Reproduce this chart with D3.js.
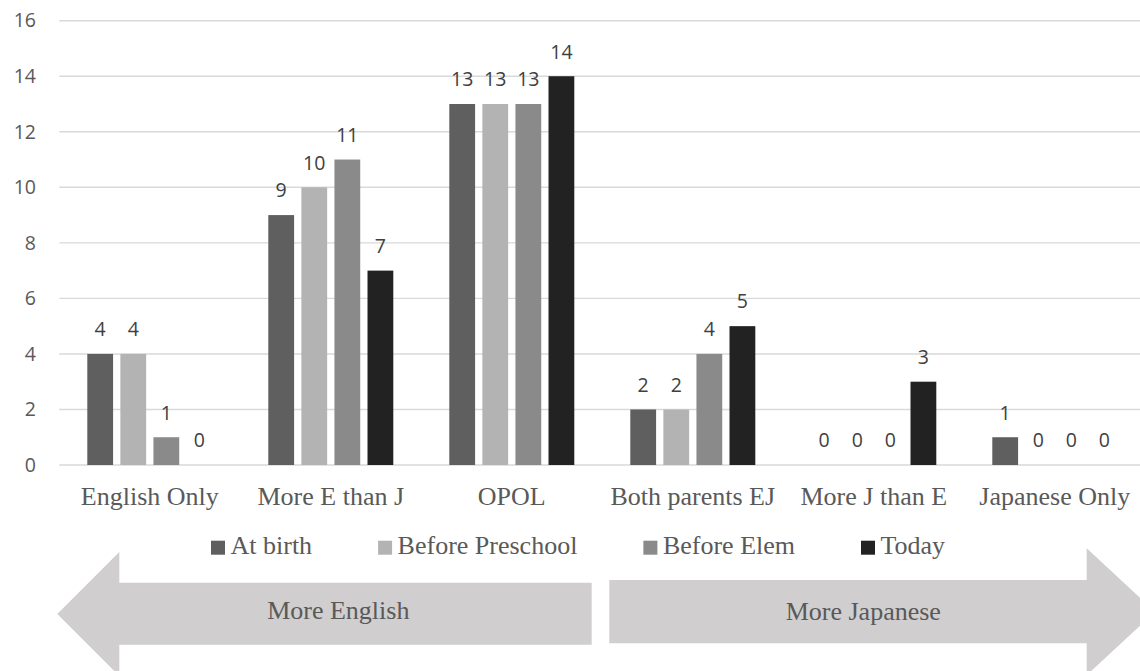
<!DOCTYPE html>
<html>
<head>
<meta charset="utf-8">
<script src="https://cdn.jsdelivr.net/npm/d3@7"></script>
<style>
  html, body { margin: 0; padding: 0; background: #fff; }
  svg { display: block; }
</style>
</head>
<body>
<svg id="chart" width="1140" height="671"></svg>
<script>
const categories = ["English Only", "More E than J", "OPOL", "Both parents EJ", "More J than E", "Japanese Only"];
const seriesNames = ["At birth", "Before Preschool", "Before Elem", "Today"];
const atBirth         = [4, 9, 13, 2, 0, 1];
const beforePreschool = [4, 10, 13, 2, 0, 0];
const beforeElem      = [1, 11, 13, 4, 0, 0];
const today           = [0, 7, 14, 5, 3, 0];
const yTicks = [0, 2, 4, 6, 8, 10, 12, 14, 16];
const arrowLabels = ["More English", "More Japanese"];

const seriesValues = [atBirth, beforePreschool, beforeElem, today];
const colors = ["#5f5f5f", "#b3b3b3", "#8a8a8a", "#222222"];

const svg = d3.select("#chart");
const sansFont = "'Open Sans', 'Noto Sans', sans-serif";
const serifFont = "'Liberation Serif', 'Times New Roman', serif";
const textColor = "#595959";

const y = d3.scaleLinear().domain([0, 16]).range([465, 20.7]);
const x0 = d3.scaleBand().domain(categories).range([59.3, 1145.3]).paddingInner(0).paddingOuter(0);
const x1 = d3.scaleBand().domain(seriesNames).range([28, 153]).paddingInner(0.22).paddingOuter(0);

// gridlines
svg.append("g").selectAll("line").data(yTicks).join("line")
  .attr("x1", 59.3).attr("x2", 1140)
  .attr("y1", d => y(d)).attr("y2", d => y(d))
  .attr("stroke", "#d9d9d9").attr("stroke-width", 1.4);

// y axis labels
const yAxis = d3.axisLeft(y).tickValues(yTicks).tickSize(0).tickPadding(0);
const yg = svg.append("g").attr("transform", "translate(36,0)").call(yAxis);
yg.select(".domain").remove();
yg.selectAll("text").attr("font-family", sansFont).attr("font-size", 19.5).attr("fill", textColor);

// bars
const data = [];
categories.forEach((c, i) => {
  seriesNames.forEach((s, j) => data.push({ cat: c, ser: s, v: seriesValues[j][i], color: colors[j] }));
});
const groups = svg.append("g");
groups.selectAll("rect").data(data).join("rect")
  .attr("x", d => x0(d.cat) + x1(d.ser))
  .attr("width", x1.bandwidth())
  .attr("y", d => y(d.v))
  .attr("height", d => y(0) - y(d.v))
  .attr("fill", d => d.color);

// value labels
groups.selectAll("text").data(data).join("text")
  .attr("x", d => x0(d.cat) + x1(d.ser) + x1.bandwidth() / 2)
  .attr("y", d => y(d.v) - 17.7)
  .attr("text-anchor", "middle")
  .attr("font-family", sansFont).attr("font-size", 19.5).attr("fill", "#404040")
  .text(d => d.v);

// x axis labels
const xAxis = d3.axisBottom(x0).tickSize(0).tickPadding(0);
const xg = svg.append("g").attr("transform", "translate(0,505)").call(xAxis);
xg.select(".domain").remove();
xg.selectAll("text").attr("font-family", serifFont).attr("font-size", 26).attr("fill", textColor)
  .attr("dy", 0).attr("y", 0);

// legend
const legend = svg.append("g");
let lx = 211;
seriesNames.forEach((s, j) => {
  legend.append("rect").attr("x", lx).attr("y", 540.7).attr("width", 14).attr("height", 14).attr("fill", colors[j]);
  const t = legend.append("text").attr("x", lx + 19.5).attr("y", 554.3)
    .attr("font-family", serifFont).attr("font-size", 26).attr("fill", textColor).text(s);
  lx += 19.5 + t.node().getComputedTextLength() + 66;
});

// arrows
const arrowColor = "#d0cecf";
function leftArrow(tipX, cy, headBase, headHalf, shaftTop, shaftBot, endX) {
  const p = d3.path();
  p.moveTo(tipX, cy);
  p.lineTo(headBase, cy - headHalf);
  p.lineTo(headBase, shaftTop);
  p.lineTo(endX, shaftTop);
  p.lineTo(endX, shaftBot);
  p.lineTo(headBase, shaftBot);
  p.lineTo(headBase, cy + headHalf);
  p.closePath();
  return p.toString();
}
function rightArrow(startX, shaftTop, shaftBot, headBase, headHalf, tipX, cy) {
  const p = d3.path();
  p.moveTo(startX, shaftTop);
  p.lineTo(headBase, shaftTop);
  p.lineTo(headBase, cy - headHalf);
  p.lineTo(tipX, cy);
  p.lineTo(headBase, cy + headHalf);
  p.lineTo(headBase, shaftBot);
  p.lineTo(startX, shaftBot);
  p.closePath();
  return p.toString();
}
svg.append("path").attr("d", leftArrow(57.3, 614, 119.3, 62, 582.7, 644.7, 591.7)).attr("fill", arrowColor);
svg.append("path").attr("d", rightArrow(609.3, 580, 643.3, 1086.7, 63.5, 1155, 611.7)).attr("fill", arrowColor);

svg.append("text").attr("x", 338.3).attr("y", 619.3).attr("text-anchor", "middle")
  .attr("font-family", serifFont).attr("font-size", 26).attr("fill", textColor).text(arrowLabels[0]);
svg.append("text").attr("x", 863.3).attr("y", 620).attr("text-anchor", "middle")
  .attr("font-family", serifFont).attr("font-size", 26).attr("fill", textColor).text(arrowLabels[1]);
</script>
</body>
</html>
